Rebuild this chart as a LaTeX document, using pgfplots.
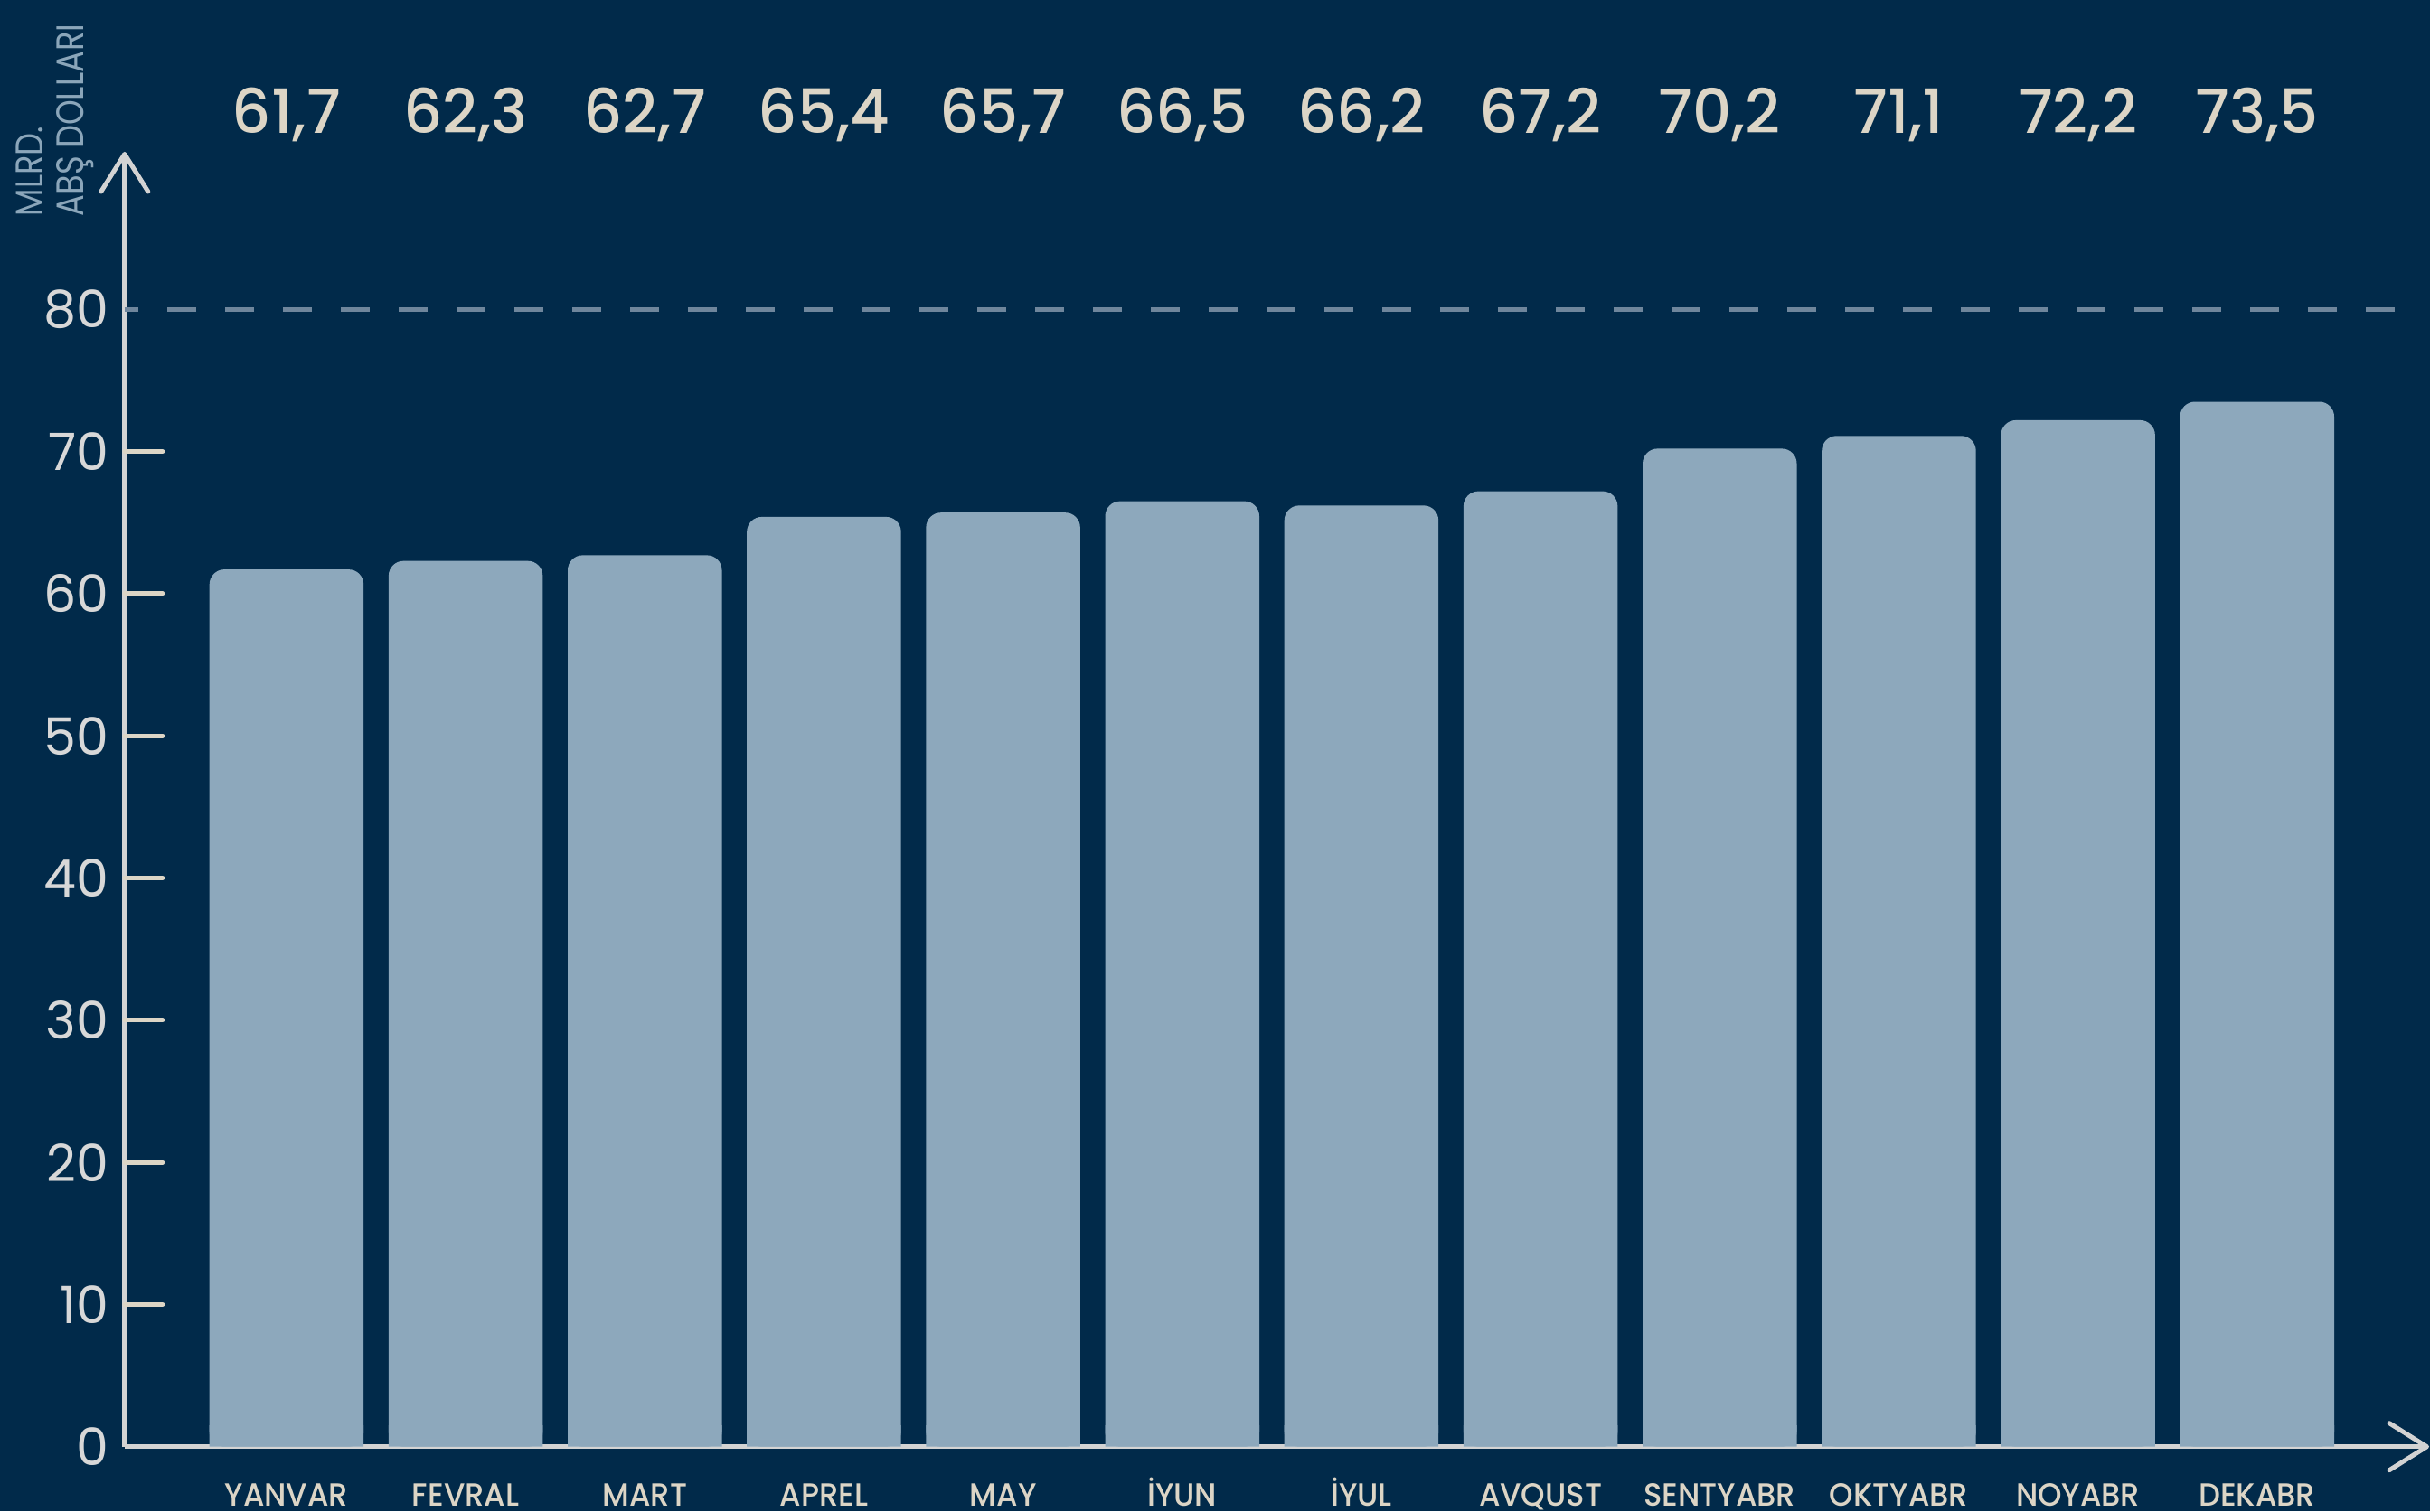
\documentclass[border=0pt]{standalone}
\usepackage{fontspec}
\setmainfont{Poppins}
\newfontfamily\medfont{Poppins Medium}
\newfontfamily\condfont[FakeStretch=0.83]{Poppins}
\newfontfamily\labfont[FakeStretch=0.95]{Poppins Medium}
\usepackage{pgfplots}
\pgfplotsset{compat=1.18}
\usepackage{pgfplotstable}
\usetikzlibrary{arrows.meta}

\definecolor{bgc}{HTML}{012A4A}
\definecolor{barc}{HTML}{8DA8BC}
\definecolor{axisc}{HTML}{D3D3D3}
\definecolor{tlabc}{HTML}{D8D8D8}
\definecolor{beige}{HTML}{DCD5C6}
\definecolor{dashc}{HTML}{6F869C}
\definecolor{ylabc}{HTML}{8BA6BA}

\pgfplotstableread{
x v
0 61.7
1 62.3
2 62.7
3 65.4
4 65.7
5 66.5
6 66.2
7 67.2
8 70.2
9 71.1
10 72.2
11 73.5
}\data

\begin{document}
\begin{tikzpicture}
\fill[bgc] (-27.56pt,-14.26pt) rectangle (510.04pt,320.14pt);
\begin{axis}[
  at={(0,0)}, anchor=south west,
  scale only axis, width=509.84pt, height=286.54pt,
  xmin=-0.904, xmax=11.96, ymin=0, ymax=91.08,
  axis lines=left,
  axis line style={draw=axisc, line width=1pt, -{Straight Barb[length=8.3pt,width=10.4pt,round]}},
  clip=false,
  major tick length=0pt,
  xtick={0,...,11},
  xticklabels={YANVAR,FEVRAL,MART,APREL,MAY,İYUN,İYUL,AVQUST,SENTYABR,OKTYABR,NOYABR,DEKABR},
  xticklabel style={font=\labfont\fontsize{7.1}{8}\selectfont, text=beige, anchor=base, yshift=-13.2pt},
  ytick={0,10,...,80},
  yticklabel style={font=\fontsize{11.4}{13}\selectfont, text=tlabc},
  /pgf/number format/assume math mode=true,
  extra y ticks={10,20,...,70},
  extra y tick labels={},
  extra y tick style={major tick length=8.4pt, tick align=inside,
     ytick style={draw=beige, line width=1pt, line cap=round}},
]
\draw[dashc, line width=1pt, dash pattern=on 6.4pt off 6.4pt, dash phase=3.4pt]
  (axis cs:-0.904,80) -- (axis cs:11.80,80);
\addplot[ybar, bar width=34.1pt, bar shift=0pt, fill=barc, draw=none,
  rounded corners=3.3pt,
  point meta=y,
  visualization depends on={rawy \as \ry},
  nodes near coords={\pgfmathprintnumber[fixed,fixed zerofill,precision=1,use comma]{\pgfplotspointmeta}},
  every node near coord/.append style={anchor=base, yshift={(92.35-\ry)*3.146pt},
     font=\medfont\fontsize{13.5}{15}\selectfont, text=beige, /pgf/number format/assume math mode=true},
] table[x=x,y=v]{\data};
\addplot[ybar, bar width=34.1pt, bar shift=0pt, fill=barc, draw=none,
  y filter/.expression={min(y,1.5)}] table[x=x,y=v]{\data};
\end{axis}
\node[rotate=90, anchor=north west, inner sep=0pt, align=left,
  font=\condfont\fontsize{8.5}{9.1}\selectfont, text=ylabc] at (-24.2pt,272.1pt) {MLRD.\\ABŞ DOLLARI};
\pgfresetboundingbox
\path (-27.56pt,-14.26pt) rectangle (510.04pt,320.14pt);
\end{tikzpicture}
\end{document}
